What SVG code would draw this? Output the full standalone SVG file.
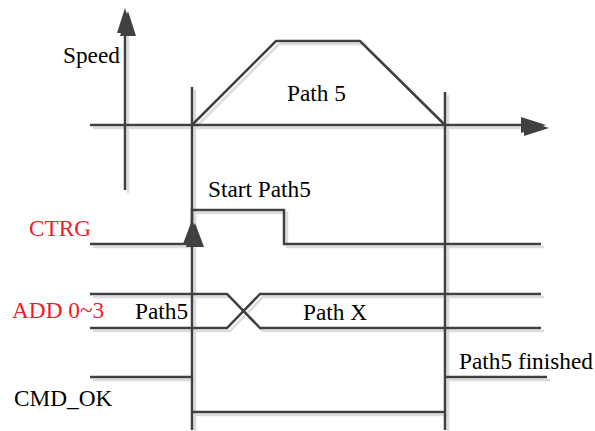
<svg xmlns="http://www.w3.org/2000/svg" xmlns:xlink="http://www.w3.org/1999/xlink" width="595" height="431" viewBox="0 0 595 431">
<style>
.ink { stroke:#404040; fill:none; stroke-width:2.5; }
.ink polygon { fill:#404040; stroke:none; }
.shadow { stroke:#dcdcdc; fill:none; stroke-width:2.5; }
.shadow polygon { fill:#dcdcdc; stroke:none; }
text { font-family:"Liberation Serif","Times New Roman",serif; font-size:23.3px; fill:#000; }
.red { fill:#ee1c24; }
</style>
<rect width="595" height="431" fill="#fff"/>
<use xlink:href="#waves" href="#waves" class="shadow" transform="translate(3,3)"/>
<g class="ink">
<g id="waves">
<g id="axes">
<line x1="125" y1="190" x2="125" y2="30"/>
<polygon points="125,8 117,33 133,33"/>
<line x1="90" y1="125" x2="522" y2="125"/>
<polygon points="546,125 521,117 521,133"/>
</g>
<g id="markers">
<line x1="192" y1="87" x2="192" y2="430"/>
<line x1="445" y1="92" x2="445" y2="430"/>
</g>
<g id="speed-profile">
<path d="M192,125 L276,41 H360 L445,125"/>
</g>
<g id="ctrg">
<path d="M90,244 H192 V210 H284 V244 H541"/>
<polygon points="192,220 183,244 201,244"/>
</g>
<g id="add">
<path d="M90,294 H227 L260,328 H541"/>
<path d="M90,328 H227 L260,294 H541"/>
</g>
<g id="cmd-ok">
<path d="M90,377 H192"/>
<path d="M192,412 H445"/>
<path d="M445,377 H547"/>
</g>
</g>
</g>
<g id="labels">
<text x="63" y="63">Speed</text>
<text x="287" y="101">Path 5</text>
<text x="208" y="197">Start Path5</text>
<text class="red" x="29" y="236">CTRG</text>
<text class="red" x="12" y="318">ADD 0~3</text>
<text x="135" y="319">Path5</text>
<text x="303" y="320">Path X</text>
<text x="459" y="369">Path5 finished</text>
<text x="14" y="406">CMD_OK</text>
</g>
</svg>
